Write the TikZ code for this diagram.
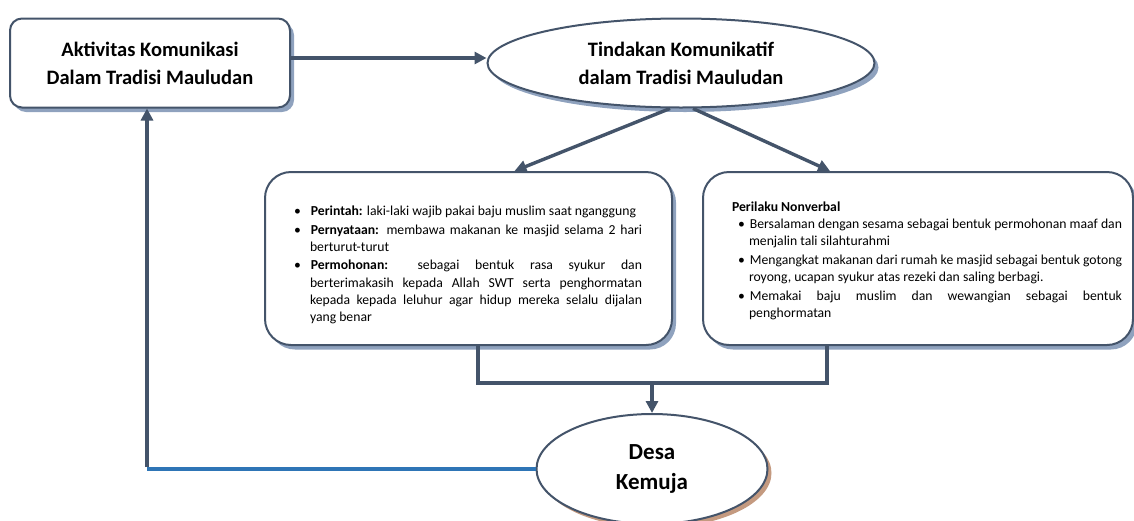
\documentclass[tikz,border=0pt]{standalone}
\usepackage{fontspec}
\setmainfont{Carlito}
\usetikzlibrary{arrows.meta,shapes.geometric,shadows}
\definecolor{ln}{HTML}{44546A}
\definecolor{shb}{HTML}{8FA2BE}
\definecolor{shbr}{HTML}{C49A80}
\definecolor{bl}{HTML}{2E75B6}
\newenvironment{blist}[2]{\begin{list}{\textbullet}{\setlength\leftmargin{#1}\setlength\labelsep{#2}\setlength\labelwidth{6pt}\setlength\itemsep{1.5pt}\setlength\topsep{0pt}\setlength\parsep{0pt}\setlength\partopsep{0pt}\setlength\itemindent{0pt}}}{\end{list}}
\tikzset{
  conn/.style={draw=ln, line width=3.4pt},
  arr/.style={conn, -{Triangle[length=12pt,width=12pt]}},
  fbline/.style={draw=bl, line width=3.6pt},
  shapebase/.style={draw=ln, line width=2pt, fill=white},
  bshadow/.style={general shadow={fill=shb, shadow xshift=4pt, shadow yshift=-4.5pt}},
  rshadow/.style={general shadow={fill=shbr, shadow xshift=4pt, shadow yshift=-4pt}},
  titlebox/.style={shapebase, bshadow, rectangle, rounded corners=12pt, minimum width=280pt, minimum height=89pt, align=center, font=\bfseries\fontsize{20.5}{28}\selectfont},
  bigbox/.style={shapebase, bshadow, rectangle, rounded corners=26pt, minimum height=173pt},
  titleell/.style={shapebase, bshadow, ellipse, inner sep=0pt, align=center, font=\bfseries\fontsize{20.5}{28}\selectfont},
  desaell/.style={shapebase, rshadow, ellipse, inner sep=0pt, align=center, font=\bfseries\fontsize{23}{30}\selectfont},
  listtext/.style={inner sep=0pt, align=justify, font=\fontsize{13.7}{17.2}\selectfont}
}
\begin{document}
\begin{tikzpicture}[x=1pt,y=-1pt]
\useasboundingbox (0,0) rectangle (1134,520);

\node[titlebox] (akt) at (150,63) {Aktivitas Komunikasi\\Dalam Tradisi Mauludan};
\node[titleell, minimum width=387pt, minimum height=89pt] (tind) at (681,63) {Tindakan Komunikatif\\dalam Tradisi Mauludan};

\node[bigbox, minimum width=407pt] (lbox) at (468.5,258.5) {};
\node[bigbox, minimum width=430pt] (rbox) at (918,258.5) {};

\node[listtext, text width=350pt] (ltext) at (467,261) {\hyphenpenalty=10000\exhyphenpenalty=10000
\begin{blist}{18pt}{10pt}
\item \textbf{Perintah:} laki-laki wajib pakai baju muslim saat nganggung
\item \textbf{Pernyataan:} membawa makanan ke masjid selama 2 hari\linebreak berturut-turut
\item \textbf{Permohonan:} sebagai bentuk rasa syukur dan\linebreak berterimakasih kepada Allah SWT serta penghormatan\linebreak kepada kepada leluhur agar hidup mereka selalu dijalan\linebreak yang benar
\end{blist}};

\node[listtext, text width=390pt] (rtext) at (927,261) {\hyphenpenalty=10000\exhyphenpenalty=10000
\textbf{Perilaku Nonverbal}
\begin{blist}{17pt}{5pt}
\item Bersalaman dengan sesama sebagai bentuk permohonan maaf dan\linebreak menjalin tali silahturahmi
\item Mengangkat makanan dari rumah ke masjid sebagai bentuk gotong\linebreak royong, ucapan syukur atas rezeki dan saling berbagi.
\item Memakai baju muslim dan wewangian sebagai bentuk\linebreak penghormatan
\end{blist}};

\node[desaell, minimum width=231pt, minimum height=110pt] (desa) at (652,469) {Desa\\Kemuja};

\coordinate (bus) at (652,383);
\coordinate (corner) at (147,469);

\draw[arr] ([yshift=5pt]akt.east) -- ([yshift=5pt]tind.west);
\draw[arr] ([xshift=-11pt]tind.south) -- ([xshift=46pt]lbox.north);
\draw[arr] ([xshift=12pt]tind.south) -- ([xshift=-88pt]rbox.north);
\draw[conn] ([xshift=9.5pt]lbox.south) |- (bus) -| ([xshift=-91pt]rbox.south);
\draw[arr] (bus) -- (desa.north);
\draw[fbline] (desa.west |- corner) -- (corner);
\draw[arr] ([yshift=1.8pt]corner) -- (corner |- akt.south);
\end{tikzpicture}
\end{document}
